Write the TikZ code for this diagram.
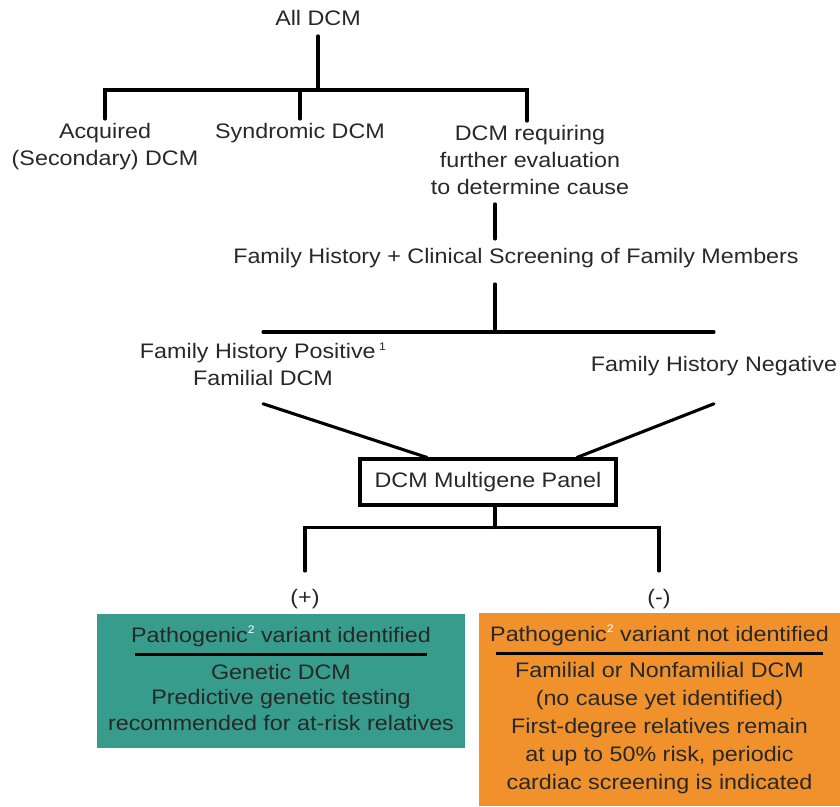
\documentclass[tikz,border=0pt]{standalone}
\usepackage{fontspec}
\setmainfont{Liberation Sans}[FakeStretch=1.11]
\usetikzlibrary{positioning, calc}

\definecolor{genegreen}{RGB}{55,156,140}
\definecolor{geneorange}{RGB}{241,145,44}
\definecolor{inkgray}{RGB}{40,40,40}
\newcommand{\fnmark}[1]{\raisebox{0.75ex}{\fontsize{11}{11}\selectfont #1}}

\begin{document}
\begin{tikzpicture}[x=1pt, y=1pt, on grid,
		label/.style={align=center, inner sep=0pt, text=inkgray,
			font=\fontsize{21}{27}\selectfont},
		tree/.style={line width=3.1pt, line cap=round},
		panelbox/.style={draw, line width=3.1pt, inner sep=0pt,
			minimum width=256pt, minimum height=46pt},
		result/.style={inner sep=0pt, draw=none},
		rule/.style={line width=3pt}]

		\useasboundingbox (0,0) rectangle (840,-806);

		\node[label] (alldcm) at (318,-18) {All DCM};
		\node[label, below left = 128.5 and 213 of alldcm] (acq) {Acquired\\(Secondary) DCM};
		\node[label, below left = 115 and 18 of alldcm] (synd) {Syndromic DCM};
		\node[label, below right = 142 and 212 of alldcm] (req) {DCM requiring\\further evaluation\\to determine cause};
		\node[label, below left = 98 and 14 of req] (fhcs) {Family History + Clinical Screening of Family Members};
		\node[label, below left = 106 and 253 of fhcs] (fhpos) {Family History Positive\,\fnmark{1}\\Familial DCM};
		\node[label, right = 451 of fhpos, yshift=-2pt] (fhneg) {Family History Negative};
		\node[label, panelbox, below left = 224 and 28 of fhcs] (panel) {DCM Multigene Panel};
		\node[label, below left = 117 and 183 of panel] (plus) {(+)};
		\node[label, right = 354 of plus] (minus) {(-)};

		% result boxes
		\node[result, fill=genegreen, minimum width=368pt, minimum height=134pt,
			below left = 82 and 24 of plus] (posbox) {};
		\node[result, fill=geneorange, minimum width=362pt, minimum height=193pt,
			below right = 110.5 and 0.5 of minus] (negbox) {};

		\node[label, below = 12 of posbox.north] (postitle) {Pathogenic\fnmark{\color{white}2} variant identified};
		\draw[rule] ($(posbox.north)+(-146,-41)$) -- ++(292,0);
		\node[label, below = 61 of postitle, font=\fontsize{21}{25.5}\selectfont] (posbody)
			{Genetic DCM\\Predictive genetic testing\\recommended for at-risk relatives};

		\node[label, below = 12 of negbox.north] (negtitle) {Pathogenic\fnmark{\color{white}2} variant not identified};
		\draw[rule] ($(negbox.north)+(-163.5,-41)$) -- ++(327,0);
		\node[label, below = 93 of negtitle, font=\fontsize{21}{28}\selectfont] (negbody)
			{Familial or Nonfamilial DCM\\(no cause yet identified)\\First-degree relatives remain\\at up to 50\% risk, periodic\\cardiac screening is indicated};

		% tree
		\coordinate (spine) at (495,0);
		\coordinate[below = 72 of alldcm] (top-split);
		\draw[tree] ($(alldcm.south)+(0,-10)$) -- (top-split);
		\draw[tree] ($(acq.north)+(0,4)$) |- (top-split) -| ($(req.north)+(-3,4)$);
		\draw[tree] ($(synd.north)+(0,4)$) -- (synd.north |- top-split);

		\draw[tree] ($(req.south -| spine)+(0,-9)$) -- ($(fhcs.north -| spine)+(0,9)$);
		\coordinate (fh-split) at ($(fhcs.south -| spine)+(0,-64)$);
		\draw[tree] ($(fhcs.south -| spine)+(0,-16)$) -- (fh-split);
		\draw[tree] (fhpos |- fh-split) -- (fhneg |- fh-split);

		\draw[tree] ($(fhpos.south)+(0,-18)$) -- ($(panel.north)+(-61,0)$);
		\draw[tree] ($(fhpos.south -| fhneg)+(0,-18)$) -- ($(panel.north)+(89,0)$);

		\draw[tree] (panel.south -| spine) -- ++(0,-21) coordinate (gene-split);
		\draw[tree] ($(plus.north)+(0,18)$) |- (gene-split) -| ($(minus.north)+(0,18)$);
\end{tikzpicture}
\end{document}
